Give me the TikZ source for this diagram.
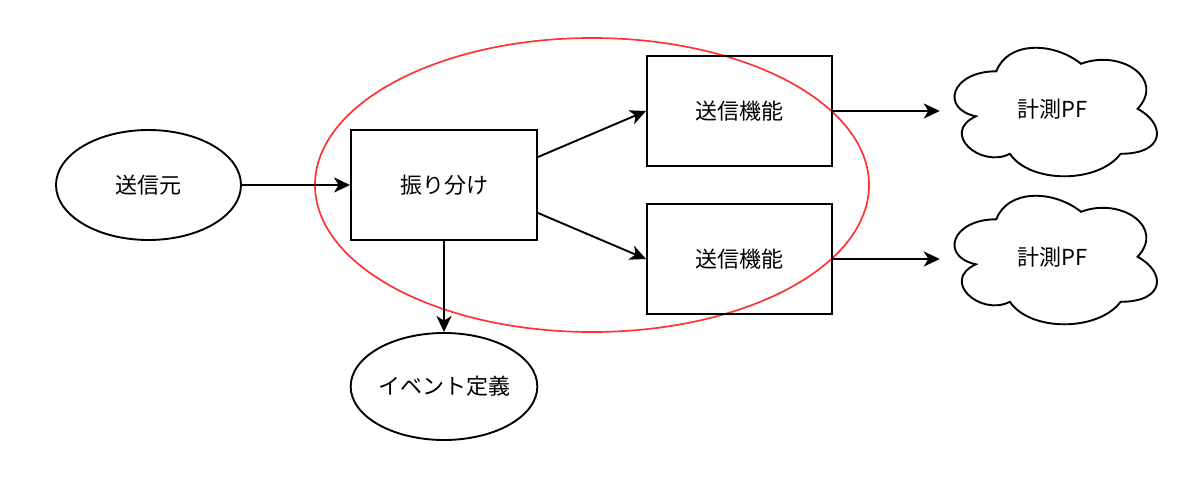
\documentclass[tikz,border=0pt]{standalone}
\usepackage{fontspec}
\setmainfont{Noto Sans CJK JP}
\usetikzlibrary{shapes.geometric,calc,arrows.meta}
\begin{document}
\begin{tikzpicture}[x=1pt,y=-1pt,
  every node/.style={font=\fontsize{22}{26}\selectfont},
  stroke/.style={line width=1.9pt},
  boxnode/.style={stroke, draw, rectangle, minimum width=185pt, minimum height=110pt, inner sep=0pt},
  ellnode/.style={stroke, draw, ellipse, minimum width=185pt, minimum height=108pt, inner sep=0pt},
  cloudnode/.style={rectangle, minimum width=226pt, minimum height=150pt, inner sep=0pt},
  groupnode/.style={ellipse, draw=red!80!white, line width=1.7pt, minimum width=554pt, minimum height=294pt, inner sep=0pt},
  arr/.style={stroke, -{Stealth[length=16pt,width=15pt,inset=4.5pt]}}
]
\useasboundingbox (0,0) rectangle (1200,498);

\node[groupnode] (grp) at (592,185) {};

\node[ellnode, minimum height=110pt] (src) at (148.5,185) {送信元};
\node[boxnode, minimum width=186pt] (fw) at (444,185) {振り分け};
\node[boxnode] (s1) at (739.5,111) {送信機能};
\node[boxnode] (s2) at (739.5,259) {送信機能};
\node[ellnode, minimum width=186pt, minimum height=107pt] (ev) at (444,386.5) {イベント定義};
\node[cloudnode] (pf1) at (1053,109) {計測PF};
\node[cloudnode] (pf2) at (1053,257) {計測PF};

\foreach \n in {pf1,pf2} {
  \begin{scope}[shift={(\n.north west)}, x=226pt, y=-150pt]
    \draw[stroke] (0.25,0.25) .. controls (0.05,0.25) and (0,0.5) .. (0.16,0.55)
      .. controls (0,0.66) and (0.18,0.9) .. (0.31,0.8)
      .. controls (0.4,1) and (0.7,1) .. (0.8,0.8)
      .. controls (1,0.8) and (1,0.6) .. (0.875,0.5)
      .. controls (1,0.3) and (0.8,0.1) .. (0.625,0.2)
      .. controls (0.5,0.05) and (0.3,0.05) .. (0.25,0.25) -- cycle;
  \end{scope}
}

\draw[arr] (src.east) -- (fw.west);
\draw[arr] ($(fw.north east)!0.25!(fw.south east)$) -- (s1.west);
\draw[arr] ($(fw.north east)!0.75!(fw.south east)$) -- (s2.west);
\draw[arr] (fw.south) -- (ev.north);
\draw[arr] (s1.east) -- (s1.east -| pf1.west);
\draw[arr] (s2.east) -- (s2.east -| pf2.west);
\end{tikzpicture}
\end{document}
